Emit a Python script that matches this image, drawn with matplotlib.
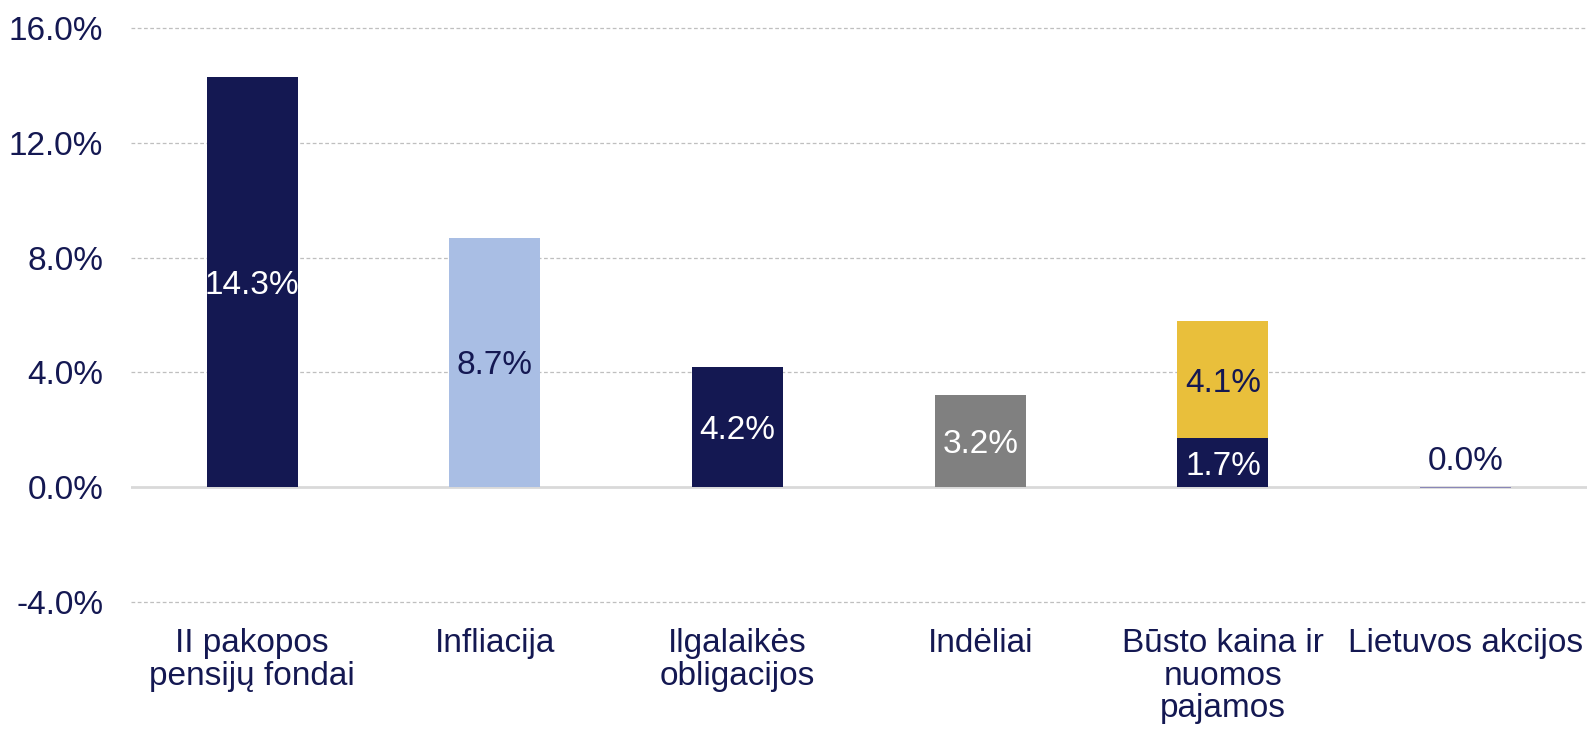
import matplotlib
matplotlib.use("Agg")
import matplotlib.pyplot as plt
from matplotlib.ticker import FuncFormatter

plt.rcParams["font.family"] = ["Liberation Sans", "DejaVu Sans"]

# ---------- data ----------
categories = ["II pakopos\npensijų fondai", "Infliacija", "Ilgalaikės\nobligacijos",
              "Indėliai", "Būsto kaina ir\nnuomos\npajamos", "Lietuvos akcijos"]
base_values = [14.3, 8.7, 4.2, 3.2, 1.7, -0.02]      # paskutinis ~0 (plona linija po nuliu)
base_labels = ["14.3%", "8.7%", "4.2%", "3.2%", "1.7%", "0.0%"]
top_values = [0, 0, 0, 0, 4.1, 0]                     # būsto nuomos pajamos (viršutinė dalis)
top_labels = ["", "", "", "", "4.1%", ""]
yticks = [-4, 0, 4, 8, 12, 16]

NAVY = "#141852"
base_colors = [NAVY, "#A9BEE4", NAVY, "#808080", NAVY, "#8A87B8"]
base_text = ["white", NAVY, "white", "white", "white", NAVY]
YELLOW = "#E9BF3B"
FS = 24

fig = plt.figure(figsize=(15.87, 7.30), dpi=100)
ax = fig.add_axes([0.0825, 0.1753, 0.9175, 0.7863])

x = range(len(categories))
ax.bar(x, base_values, width=0.375, color=base_colors, zorder=3)
ax.bar(x, top_values, width=0.375, bottom=base_values, color=YELLOW, zorder=3)

for i in x:
    v = base_values[i]
    if abs(v) < 0.5:
        ax.text(i, 0.35, base_labels[i], ha="center", va="bottom", fontsize=FS, color=base_text[i], zorder=4)
    else:
        ax.text(i, v / 2, base_labels[i], ha="center", va="center_baseline", fontsize=FS,
                color=base_text[i], zorder=4)
    if top_values[i]:
        ax.text(i, v + top_values[i] / 2, top_labels[i], ha="center", va="center_baseline",
                fontsize=FS, color=NAVY, zorder=4)

ax.set_xlim(-0.5, len(categories) - 0.5)
ax.set_ylim(-4, 16)
ax.set_yticks(yticks)
ax.yaxis.set_major_formatter(FuncFormatter(lambda v, p: f"{v:.1f}%"))
ax.set_xticks(list(x))
ax.set_xticklabels(categories, fontsize=FS, color=NAVY, linespacing=1.05)
ax.tick_params(axis="y", length=0, pad=20, labelsize=FS, labelcolor=NAVY)
ax.tick_params(axis="x", length=0, pad=19)

for s in ax.spines.values():
    s.set_visible(False)
for t in yticks:
    if t == 0:
        ax.axhline(0, color="#D9D9D9", lw=2, zorder=2)
    else:
        ax.axhline(t, color="#BFBFBF", lw=0.9, ls=(0, (3, 2)), zorder=1, clip_on=False)

fig.savefig("out.png", dpi=100)
